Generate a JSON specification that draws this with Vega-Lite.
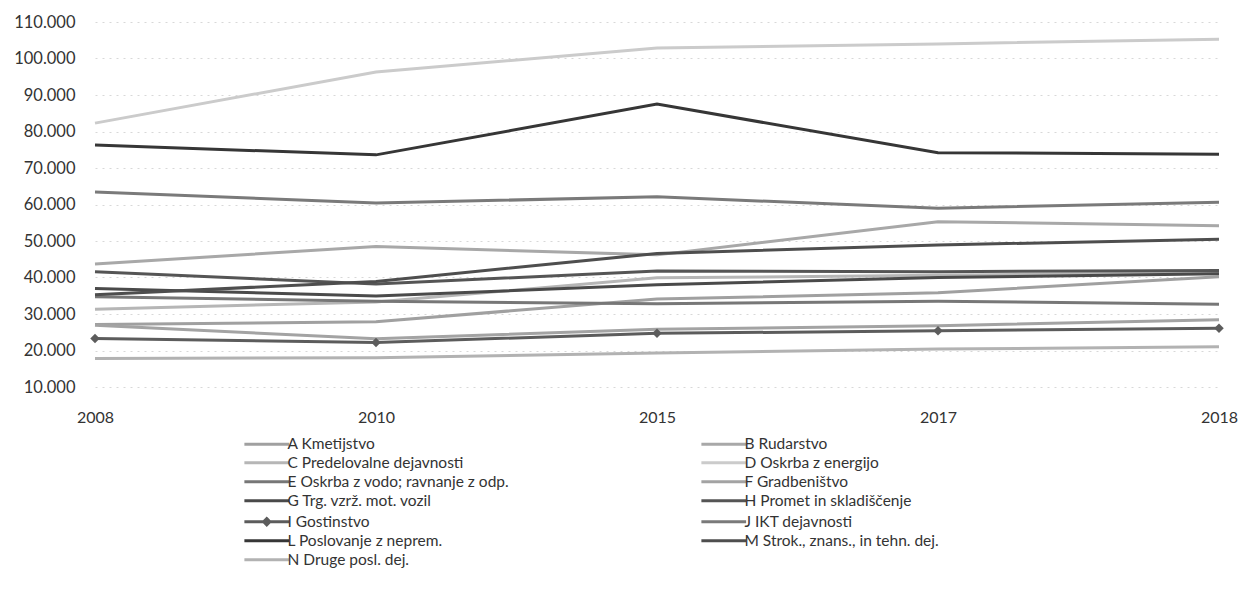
{
  "$schema": "https://vega.github.io/schema/vega-lite/v6.json",
  "autosize": {"type": "none"},
  "padding": {"left": 95, "top": 22, "right": 20, "bottom": 226},
  "width": 1124,
  "height": 365,
  "background": "white",
  "config": {
    "locale": {"number": {"decimal": ",", "thousands": ".", "grouping": [3], "currency": ["", " €"]}},
    "view": {"stroke": null},
    "font": "Lato"
  },
  "data": {"values": [
    {"s": "A Kmetijstvo", "y": "2008", "v": 27100}, {"s": "A Kmetijstvo", "y": "2010", "v": 27900}, {"s": "A Kmetijstvo", "y": "2015", "v": 34100}, {"s": "A Kmetijstvo", "y": "2017", "v": 35800}, {"s": "A Kmetijstvo", "y": "2018", "v": 40200},
    {"s": "B Rudarstvo", "y": "2008", "v": 43700}, {"s": "B Rudarstvo", "y": "2010", "v": 48500}, {"s": "B Rudarstvo", "y": "2015", "v": 46200}, {"s": "B Rudarstvo", "y": "2017", "v": 55300}, {"s": "B Rudarstvo", "y": "2018", "v": 54200},
    {"s": "C Predelovalne dejavnosti", "y": "2008", "v": 31300}, {"s": "C Predelovalne dejavnosti", "y": "2010", "v": 33300}, {"s": "C Predelovalne dejavnosti", "y": "2015", "v": 39900}, {"s": "C Predelovalne dejavnosti", "y": "2017", "v": 40600}, {"s": "C Predelovalne dejavnosti", "y": "2018", "v": 41400},
    {"s": "D Oskrba z energijo", "y": "2008", "v": 82300}, {"s": "D Oskrba z energijo", "y": "2010", "v": 96300}, {"s": "D Oskrba z energijo", "y": "2015", "v": 102900}, {"s": "D Oskrba z energijo", "y": "2017", "v": 104000}, {"s": "D Oskrba z energijo", "y": "2018", "v": 105300},
    {"s": "E Oskrba z vodo; ravnanje z odp.", "y": "2008", "v": 34700}, {"s": "E Oskrba z vodo; ravnanje z odp.", "y": "2010", "v": 33500}, {"s": "E Oskrba z vodo; ravnanje z odp.", "y": "2015", "v": 32800}, {"s": "E Oskrba z vodo; ravnanje z odp.", "y": "2017", "v": 33500}, {"s": "E Oskrba z vodo; ravnanje z odp.", "y": "2018", "v": 32700},
    {"s": "F Gradbeništvo", "y": "2008", "v": 26900}, {"s": "F Gradbeništvo", "y": "2010", "v": 23200}, {"s": "F Gradbeništvo", "y": "2015", "v": 25800}, {"s": "F Gradbeništvo", "y": "2017", "v": 26800}, {"s": "F Gradbeništvo", "y": "2018", "v": 28400},
    {"s": "G Trg. vzrž. mot. vozil", "y": "2008", "v": 37000}, {"s": "G Trg. vzrž. mot. vozil", "y": "2010", "v": 34900}, {"s": "G Trg. vzrž. mot. vozil", "y": "2015", "v": 38000}, {"s": "G Trg. vzrž. mot. vozil", "y": "2017", "v": 40000}, {"s": "G Trg. vzrž. mot. vozil", "y": "2018", "v": 41000},
    {"s": "H Promet in skladiščenje", "y": "2008", "v": 41600}, {"s": "H Promet in skladiščenje", "y": "2010", "v": 38200}, {"s": "H Promet in skladiščenje", "y": "2015", "v": 41800}, {"s": "H Promet in skladiščenje", "y": "2017", "v": 41600}, {"s": "H Promet in skladiščenje", "y": "2018", "v": 41900},
    {"s": "I Gostinstvo", "y": "2008", "v": 23300}, {"s": "I Gostinstvo", "y": "2010", "v": 22200}, {"s": "I Gostinstvo", "y": "2015", "v": 24700}, {"s": "I Gostinstvo", "y": "2017", "v": 25400}, {"s": "I Gostinstvo", "y": "2018", "v": 26100},
    {"s": "J IKT dejavnosti", "y": "2008", "v": 63400}, {"s": "J IKT dejavnosti", "y": "2010", "v": 60400}, {"s": "J IKT dejavnosti", "y": "2015", "v": 62100}, {"s": "J IKT dejavnosti", "y": "2017", "v": 59000}, {"s": "J IKT dejavnosti", "y": "2018", "v": 60600},
    {"s": "L Poslovanje z neprem.", "y": "2008", "v": 76300}, {"s": "L Poslovanje z neprem.", "y": "2010", "v": 73600}, {"s": "L Poslovanje z neprem.", "y": "2015", "v": 87500}, {"s": "L Poslovanje z neprem.", "y": "2017", "v": 74200}, {"s": "L Poslovanje z neprem.", "y": "2018", "v": 73800},
    {"s": "M Strok., znans., in tehn. dej.", "y": "2008", "v": 35300}, {"s": "M Strok., znans., in tehn. dej.", "y": "2010", "v": 38900}, {"s": "M Strok., znans., in tehn. dej.", "y": "2015", "v": 46600}, {"s": "M Strok., znans., in tehn. dej.", "y": "2017", "v": 48900}, {"s": "M Strok., znans., in tehn. dej.", "y": "2018", "v": 50500},
    {"s": "N Druge posl. dej.", "y": "2008", "v": 17800}, {"s": "N Druge posl. dej.", "y": "2010", "v": 18000}, {"s": "N Druge posl. dej.", "y": "2015", "v": 19300}, {"s": "N Druge posl. dej.", "y": "2017", "v": 20400}, {"s": "N Druge posl. dej.", "y": "2018", "v": 21000}
  ]},
  "encoding": {
    "x": {"field": "y", "type": "ordinal", "scale": {"type": "point", "padding": 0},
          "axis": {"title": null, "labelAngle": 0, "domain": false, "ticks": false, "grid": false, "labelFontSize": 16, "labelColor": "#333", "labelPadding": 22, "labelFont": "Lato"}},
    "y": {"field": "v", "type": "quantitative", "scale": {"domain": [10000, 110000], "nice": false},
          "axis": {"title": null, "values": [10000, 20000, 30000, 40000, 50000, 60000, 70000, 80000, 90000, 100000, 110000], "tickCount": 11, "format": ",.0f", "labelOverlap": false, "domain": false, "ticks": false, "labelFontSize": 16.5, "labelColor": "#333", "labelPadding": 20, "labelFont": "Lato", "gridColor": "#d8d8d8", "gridDash": [2, 5], "gridWidth": 1}}
  },
  "layer": [
    {
      "mark": {"type": "line", "strokeWidth": 3},
      "encoding": {
        "color": {"field": "s", "type": "nominal",
                  "scale": {"domain": ["A Kmetijstvo", "B Rudarstvo", "C Predelovalne dejavnosti", "D Oskrba z energijo", "E Oskrba z vodo; ravnanje z odp.", "F Gradbeništvo", "G Trg. vzrž. mot. vozil", "H Promet in skladiščenje", "I Gostinstvo", "J IKT dejavnosti", "L Poslovanje z neprem.", "M Strok., znans., in tehn. dej.", "N Druge posl. dej."],
                            "range": ["#a0a0a0", "#a8a8a8", "#b6b6b6", "#cbcbcb", "#777777", "#a3a3a3", "#4a4a4a", "#555555", "#5c5c5c", "#7a7a7a", "#363636", "#4e4e4e", "#b2b2b2"]},
                  "legend": {"title": null, "orient": "none", "legendX": 164, "legendY": 414, "columns": 2, "direction": "horizontal", "columnPadding": 185, "rowPadding": 2, "symbolType": "M-4,0H4", "symbolSize": 125, "symbolStrokeWidth": 3, "labelFontSize": 15.5, "labelColor": "#333", "labelFont": "Lato", "labelOffset": 13, "labelLimit": 400,
                             "encode": {"symbols": {"update": {"shape": {"signal": "datum.value === 'I Gostinstvo' ? 'M-4,0H4M0,-0.55L0.55,0L0,0.55L-0.55,0Z' : 'M-4,0H4'"}}}}}}
      }
    },
    {
      "transform": [{"filter": "datum.s === 'I Gostinstvo'"}],
      "mark": {"type": "point", "shape": "diamond", "filled": true, "size": 90, "color": "#5c5c5c", "opacity": 1}
    }
  ]
}
